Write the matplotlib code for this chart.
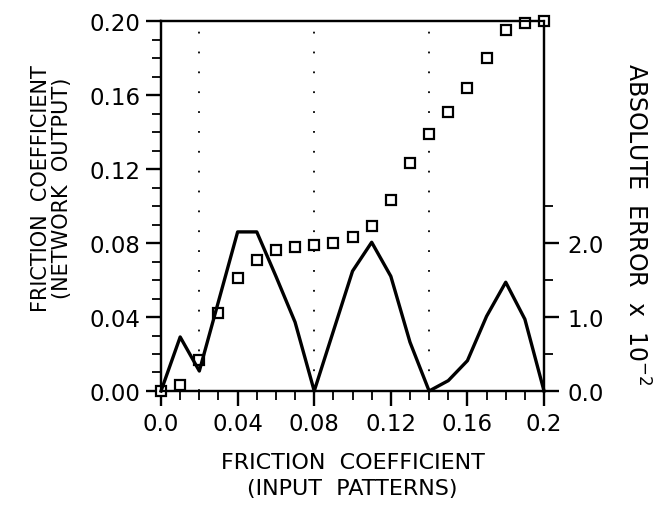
import numpy as np
import matplotlib.pyplot as plt
from matplotlib.ticker import MultipleLocator, FormatStrFormatter

plt.rcParams['font.family'] = ['DejaVu Sans']

# input friction coefficient (training patterns)
x_input     = [0.00, 0.01, 0.02, 0.03, 0.04, 0.05, 0.06, 0.07, 0.08, 0.09, 0.10,
               0.11, 0.12, 0.13, 0.14, 0.15, 0.16, 0.17, 0.18, 0.19, 0.20]
# network output (left axis)
y_network   = [0.000, 0.003, 0.017, 0.042, 0.061, 0.071, 0.076, 0.078, 0.079, 0.080, 0.083,
               0.089, 0.103, 0.123, 0.139, 0.151, 0.164, 0.180, 0.195, 0.199, 0.200]
# absolute error x 10^-2 (right axis)
abs_error   = [0.00, 0.73, 0.27, 1.21, 2.15, 2.15, 1.55, 0.93, 0.00, 0.81, 1.62,
               2.01, 1.55, 0.66, 0.00, 0.14, 0.41, 1.01, 1.47, 0.97, 0.00]
# training points marked with dotted lines
x_marks     = [0.02, 0.08, 0.14]

fs_tick = 16.5
fs_lab  = 15

fig = plt.figure(figsize=(6.69, 5.06), dpi=100)
ax  = fig.add_axes([0.2407, 0.2253, 0.5725, 0.7312])
ax2 = ax.twinx()

for xm in x_marks:
    ax.axvline(xm, color='black', lw=1.3, linestyle=(0, (1, 10)), zorder=1)

ax.plot(x_input, y_network, linestyle='none', marker='s', markersize=7,
        markerfacecolor='white', markeredgecolor='black', markeredgewidth=1.6,
        zorder=3, clip_on=False)
ax2.plot(x_input, abs_error, color='black', lw=2.4, zorder=2, clip_on=False)

ax.set_xlim(0, 0.2)
ax.set_ylim(0, 0.2)
ax2.set_ylim(0, 5.0)

ax.xaxis.set_major_locator(MultipleLocator(0.04))
ax.xaxis.set_minor_locator(MultipleLocator(0.01))
ax.yaxis.set_major_locator(MultipleLocator(0.04))
ax.yaxis.set_minor_locator(MultipleLocator(0.01))
ax.xaxis.set_major_formatter(lambda v, p: '0.0' if abs(v) < 1e-9 else ('0.2' if abs(v - 0.2) < 1e-9 else '%.2f' % v))
ax.yaxis.set_major_formatter(FormatStrFormatter('%.2f'))

ax2.set_yticks([0.0, 1.0, 2.0])
ax2.set_yticks([0.5, 1.5, 2.5], minor=True)
ax2.yaxis.set_major_formatter(FormatStrFormatter('%.1f'))

for a in (ax, ax2):
    for s in a.spines.values():
        s.set_linewidth(1.6)
    a.tick_params(which='major', length=11, width=1.7, labelsize=fs_tick, direction='out', pad=4)
    a.tick_params(which='minor', length=6.5, width=1.3, direction='out')
ax.tick_params(axis='x', which='major', pad=4)
ax2.tick_params(axis='y', which='major', pad=6)

ax.set_xlabel('FRICTION  COEFFICIENT\n(INPUT  PATTERNS)', fontsize=16, linespacing=1.35)
ax.xaxis.set_label_coords(0.5, -0.165)
ax.set_ylabel('FRICTION  COEFFICIENT\n(NETWORK  OUTPUT)', fontsize=fs_lab, linespacing=1.1)
ax.yaxis.set_label_coords(-0.232, 0.55)
fig.text(0.951, 0.558, r'ABSOLUTE  ERROR  x  10$^{-2}$', fontsize=17, rotation=-90,
         ha='center', va='center')

fig.savefig('out.png', dpi=100)
